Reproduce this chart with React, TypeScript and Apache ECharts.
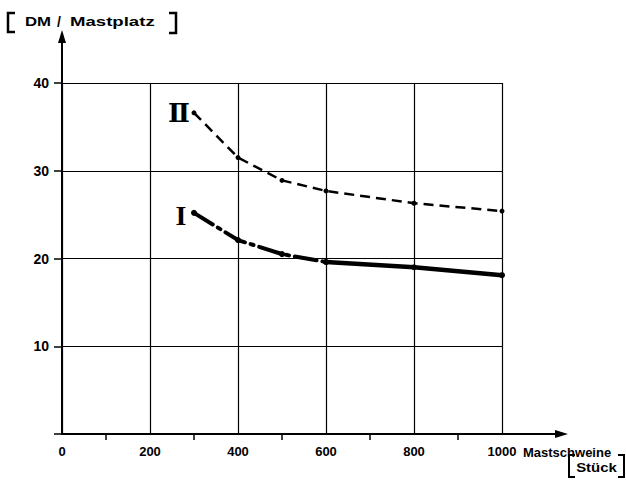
import React, { useEffect, useRef } from "react";
import * as echarts from "echarts";

const xTicks = [0, 200, 400, 600, 800, 1000];
const yTicks = [10, 20, 30, 40];
const seriesIIx = [300, 400, 500, 600, 800, 1000];
const seriesIIy = [36.6, 31.5, 28.9, 27.7, 26.3, 25.4];
const seriesIAx = [300, 400, 500, 600];
const seriesIAy = [25.2, 22.1, 20.5, 19.6];
const seriesIBx = [600, 800, 1000];
const seriesIBy = [19.6, 19.0, 18.1];

const pair = (xs: number[], ys: number[]) => xs.map((x, i) => [x, ys[i]]);

const FONT = "'Liberation Sans', Arial, sans-serif";

export default function App() {
  const ref = useRef<HTMLDivElement>(null);
  useEffect(() => {
    if (!ref.current) return;
    const chart = echarts.init(ref.current, null, { renderer: "svg" });
    const left = 62, right = 124, top = 83, bottom = 46;
    const W = 626, H = 480;
    const ox = left, oy = H - bottom, ex = W - right;
    const black = "#000";
    chart.setOption({
      animation: false,
      backgroundColor: "#fff",
      grid: { left, right, top, bottom },
      xAxis: {
        type: "value",
        min: 0,
        max: 1000,
        interval: 200,
        axisLine: { show: true, lineStyle: { color: black, width: 2 } },
        axisTick: { show: false },
        minorTick: { show: true, splitNumber: 2, length: 6, lineStyle: { color: black, width: 1.5 } },
        splitLine: { show: true, lineStyle: { color: black, width: 1.2 } },
        axisLabel: {
          color: black,
          fontFamily: FONT,
          fontWeight: "bold",
          fontSize: 13,
          margin: 11,
          formatter: (v: number) => (xTicks.includes(v) ? String(v) : ""),
        },
      },
      yAxis: {
        type: "value",
        min: 0,
        max: 40,
        interval: 10,
        axisLine: { show: true, lineStyle: { color: black, width: 2 } },
        axisTick: { show: true, length: 8, lineStyle: { color: black, width: 1.5 } },
        splitLine: { show: true, lineStyle: { color: black, width: 1.2 } },
        axisLabel: {
          color: black,
          fontFamily: FONT,
          fontWeight: "bold",
          fontSize: 14,
          margin: 13,
          formatter: (v: number) => (yTicks.includes(v) ? String(v) : ""),
        },
      },
      series: [
        {
          type: "line",
          data: pair(seriesIIx, seriesIIy),
          symbol: "circle",
          symbolSize: 5,
          itemStyle: { color: black },
          lineStyle: { color: black, width: 2.5, type: [10, 6] },
        },
        {
          type: "line",
          data: pair(seriesIAx, seriesIAy),
          symbol: "circle",
          symbolSize: 6,
          itemStyle: { color: black },
          lineStyle: { color: black, width: 4, type: [22, 6, 3, 6], cap: "round" },
        },
        {
          type: "line",
          data: pair(seriesIBx, seriesIBy),
          symbol: "circle",
          symbolSize: 6,
          itemStyle: { color: black },
          lineStyle: { color: black, width: 4.5 },
        },
      ],
      graphic: [
        // axis extensions with arrows
        { type: "line", shape: { x1: ox, y1: top, x2: ox, y2: 40 }, style: { stroke: black, lineWidth: 2 } },
        { type: "polygon", shape: { points: [[ox, 30], [ox - 4, 43], [ox + 4, 43]] }, style: { fill: black } },
        { type: "line", shape: { x1: ex, y1: oy, x2: 558, y2: oy }, style: { stroke: black, lineWidth: 2 } },
        { type: "polygon", shape: { points: [[568, oy], [555, oy - 4], [555, oy + 4]] }, style: { fill: black } },
        // y title
        { type: "polyline", shape: { points: [[15, 13], [8, 13], [8, 32], [15, 32]] }, style: { stroke: black, lineWidth: 2.5, fill: null } },
        { type: "polyline", shape: { points: [[169, 13], [176, 13], [176, 33], [169, 33]] }, style: { stroke: black, lineWidth: 2.5, fill: null } },
        { type: "text", x: 25, y: 22, style: { text: "DM", font: `bold 12px ${FONT}`, fill: black, verticalAlign: "middle" }, scaleX: 1.4 },
        { type: "text", x: 57, y: 22, style: { text: "/", font: `bold 14px ${FONT}`, fill: black, verticalAlign: "middle" } },
        { type: "text", x: 70, y: 22, style: { text: "Mastplatz", font: `bold 12px ${FONT}`, fill: black, verticalAlign: "middle" }, scaleX: 1.55 },
        // x title
        { type: "text", x: 523, y: oy + 18, style: { text: "Mastschweine", font: `bold 13px ${FONT}`, fill: black, verticalAlign: "middle" } },
        { type: "polyline", shape: { points: [[575, 455], [569, 455], [569, 477], [575, 477]] }, style: { stroke: black, lineWidth: 2, fill: null } },
        { type: "polyline", shape: { points: [[618, 455], [624, 455], [624, 477], [618, 477]] }, style: { stroke: black, lineWidth: 2, fill: null } },
        { type: "text", x: 596.5, y: 467, style: { text: "Stück", font: `bold 13px ${FONT}`, fill: black, align: "center", verticalAlign: "middle" }, scaleX: 1.15 },
        // series labels
        { type: "text", x: 179, y: 113, style: { text: "Ⅱ", font: `bold 26px 'DejaVu Serif', 'Liberation Serif', serif`, fill: black, align: "center", verticalAlign: "middle" } },
        { type: "text", x: 181, y: 215, style: { text: "I", font: `bold 28px 'Liberation Serif', serif`, fill: black, align: "center", verticalAlign: "middle" } },
      ],
    });
    return () => chart.dispose();
  }, []);
  return <div ref={ref} style={{ width: 626, height: 480, position: "absolute", left: 0, top: 0 }} />;
}
